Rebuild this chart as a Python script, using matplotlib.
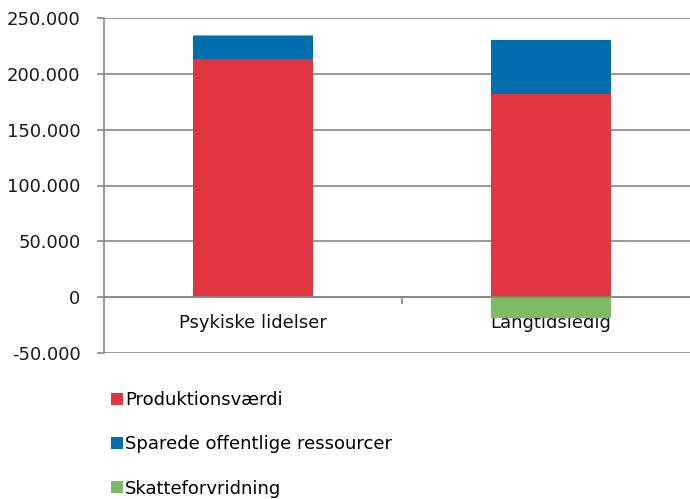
import matplotlib.pyplot as plt
from matplotlib.ticker import FuncFormatter

categories = ["Psykiske lidelser", "Langtidsledig"]
produktion = [213500, 182000]
sparede = [20300, 48300]
skat = [800, -19000]

series_names = ["Produktionsværdi", "Sparede offentlige ressourcer", "Skatteforvridning"]
colors = ["#E1363F", "#006EAD", "#7DBB64"]
grid_col = "#888888"
fs = 13

plt.rcParams['font.family'] = ['DejaVu Sans']

fig = plt.figure(figsize=(6.9, 4.99), dpi=100)
ax = fig.add_axes([104/690, 1-353/499, 596/690, 335/499])

x = range(len(categories))
w = 0.4
ax.bar(x, produktion, w, color=colors[0], label=series_names[0], zorder=3)
ax.bar(x, sparede, w, bottom=produktion, color=colors[1], label=series_names[1], zorder=3)
# skat: positive sits on top, negative goes below zero
bottoms = [p + s if k >= 0 else 0 for p, s, k in zip(produktion, sparede, skat)]
ax.bar(x, skat, w, bottom=bottoms, color=colors[2], label=series_names[2], zorder=3)

ax.set_xlim(-0.5, 1.5)
ax.set_ylim(-50000, 250000)
ax.set_yticks(range(-50000, 250001, 50000))
ax.yaxis.set_major_formatter(FuncFormatter(lambda v, p: "0" if v == 0 else f"{int(v):,}".replace(",", ".")))
ax.grid(axis='y', color=grid_col, lw=1.2, zorder=0)
ax.tick_params(axis='y', length=5, width=1.2, color=grid_col, labelsize=fs, pad=12, labelcolor="#1a1a1a")

for s in ['top', 'right']:
    ax.spines[s].set_visible(False)
ax.spines['left'].set_color(grid_col)
ax.spines['left'].set_linewidth(1.2)
ax.spines['bottom'].set_position(('data', 0))
ax.spines['bottom'].set_color(grid_col)
ax.spines['bottom'].set_linewidth(1.2)
ax.spines['bottom'].set_zorder(4)

ax.set_xticks(list(x))
ax.set_xticklabels(categories)
ax.set_xticks([0.5], minor=True)
ax.tick_params(axis='x', which='major', length=0, labelsize=fs, pad=12, labelcolor="#111111")
ax.tick_params(axis='x', which='minor', length=5, width=1.2, color=grid_col)
for lbl in ax.get_xticklabels():
    lbl.set_zorder(5)

fig.legend(loc='upper left', bbox_to_anchor=(104/690, 1-384/499), frameon=False,
           fontsize=fs, handlelength=0.65, handleheight=0.65, handletextpad=0.1,
           labelspacing=1.45, borderaxespad=0)

fig.savefig("out.png", dpi=100)
